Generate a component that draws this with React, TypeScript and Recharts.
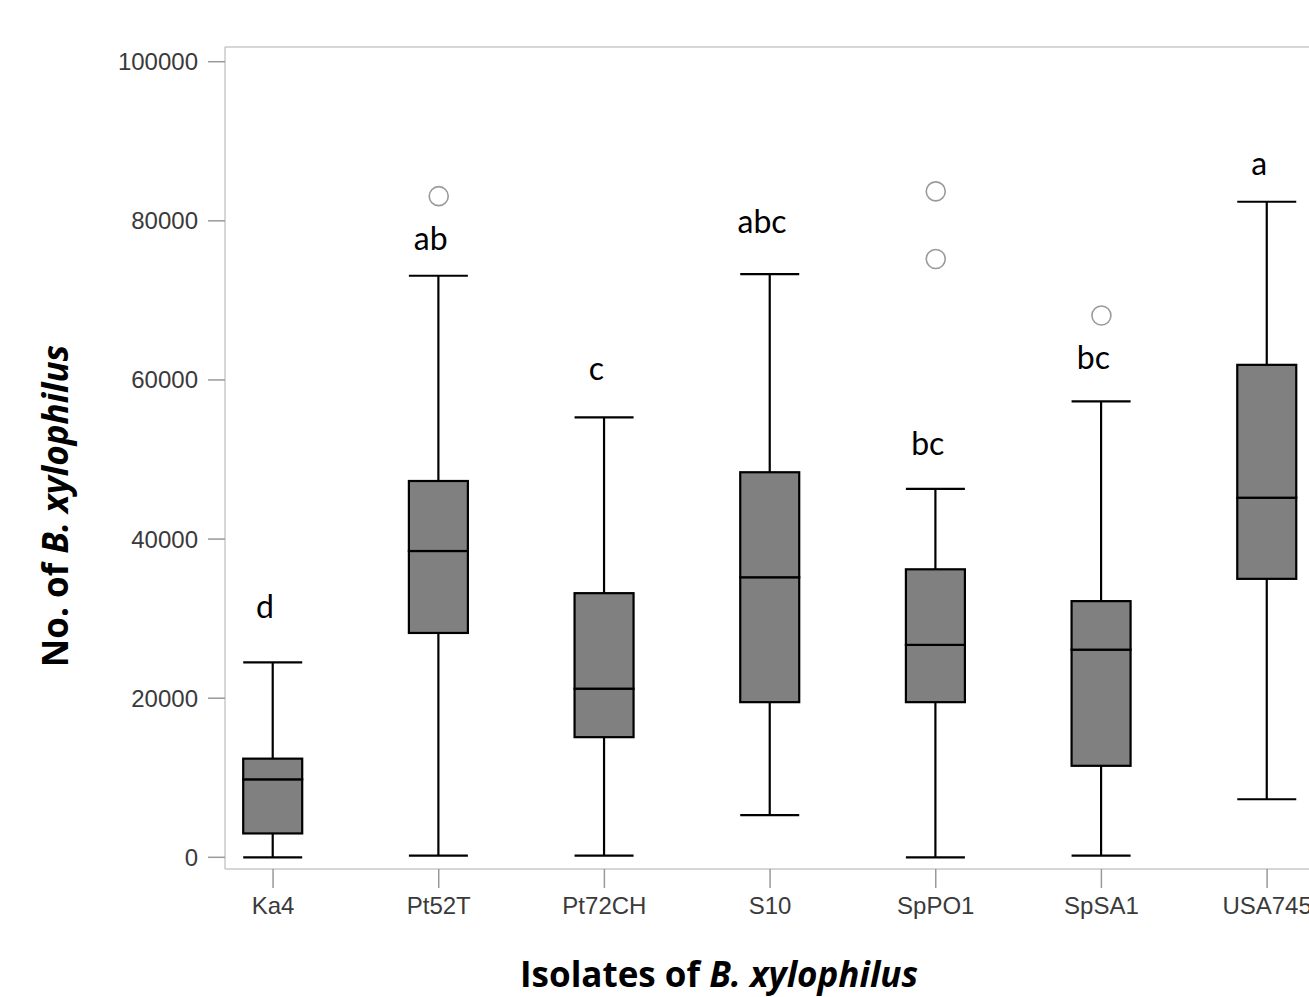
import React from 'react';
import { ComposedChart, Bar, XAxis, YAxis, Scatter, ReferenceLine } from 'recharts';

const categories = ['Ka4', 'Pt52T', 'Pt72CH', 'S10', 'SpPO1', 'SpSA1', 'USA745'];
const minValues = [0, 200, 200, 5300, 0, 200, 7300];
const q1Values = [3000, 28200, 15100, 19500, 19500, 11500, 35000];
const medianValues = [9800, 38500, 21200, 35200, 26700, 26100, 45200];
const q3Values = [12400, 47300, 33200, 48400, 36200, 32200, 61900];
const maxValues = [24500, 73100, 55300, 73300, 46300, 57300, 82400];
const outlierCats = [1, 4, 4, 5];
const outlierValues = [83100, 83700, 75200, 68100];
const letters = ['d', 'ab', 'c', 'abc', 'bc', 'bc', 'a'];
const letterValues = [30100, 76300, 60000, 78500, 50600, 61400, 85700];
const yTicks = [0, 20000, 40000, 60000, 80000, 100000];
const xTicks = [0, 1, 2, 3, 4, 5, 6];
const xDomain = [-0.29, 6.259];
const yDomain = [-1470, 101850];

const rows = categories.map((name, i) => ({
  x: i,
  name,
  base: minValues[i],
  lowWhisker: q1Values[i] - minValues[i],
  boxLow: medianValues[i] - q1Values[i],
  boxHigh: q3Values[i] - medianValues[i],
  highWhisker: maxValues[i] - q3Values[i],
}));

const outlierData = outlierCats.map((c, i) => ({ x: c, y: outlierValues[i] }));
const letterData = letters.map((l, i) => ({ x: i, y: letterValues[i], label: l }));

const LowWhisker = (p: any) => {
  const { x, y, width, height } = p;
  if (x == null || y == null) return <g />;
  const cx = x + width / 2;
  return (
    <g>
      <line x1={cx} x2={cx} y1={y} y2={y + height} stroke="#000" strokeWidth={2.2} />
      <line x1={x} x2={x + width} y1={y + height} y2={y + height} stroke="#000" strokeWidth={2.2} />
    </g>
  );
};

const HighWhisker = (p: any) => {
  const { x, y, width, height } = p;
  if (x == null || y == null) return <g />;
  const cx = x + width / 2;
  return (
    <g>
      <line x1={cx} x2={cx} y1={y} y2={y + height} stroke="#000" strokeWidth={2.2} />
      <line x1={x} x2={x + width} y1={y} y2={y} stroke="#000" strokeWidth={2.2} />
    </g>
  );
};

const BoxRect = (p: any) => {
  const { x, y, width, height } = p;
  if (x == null || y == null) return <g />;
  return <rect x={x} y={y} width={width} height={height} fill="#808080" stroke="#000" strokeWidth={2.2} />;
};

const Empty = () => <g />;

const OutlierShape = (p: any) => (
  <circle cx={p.cx} cy={p.cy} r={9.5} fill="#fff" stroke="#9a9a9a" strokeWidth={1.6} />
);

const LetterShape = (p: any) => (
  <text x={p.cx - 8} y={p.cy} textAnchor="middle" fontFamily="Lato, 'Open Sans', sans-serif" fontSize={32} fill="#000">
    {p.payload.label}
  </text>
);

const titleFont = "'Open Sans', Lato, sans-serif";

const YTitle = (props: any) => {
  const vb = props.viewBox || { x: 0, y: 47, width: 225, height: 822 };
  const cx = vb.x + 54;
  const cy = vb.y + vb.height / 2 + 48;
  return (
    <text
      x={cx}
      y={cy}
      transform={`rotate(-90, ${cx}, ${cy})`}
      textAnchor="middle"
      dominantBaseline="central"
      fontFamily={titleFont}
      fontWeight="bold"
      fontSize={35}
      fill="#000"
    >
      No. of <tspan fontStyle="italic">B. xylophilus</tspan>
    </text>
  );
};

const XTitle = (props: any) => {
  const vb = props.viewBox || { x: 225, y: 869, width: 1085, height: 128 };
  return (
    <text
      x={vb.x + 494}
      y={vb.y + 104}
      textAnchor="middle"
      dominantBaseline="central"
      fontFamily={titleFont}
      fontWeight="bold"
      fontSize={35}
      fill="#000"
    >
      Isolates of <tspan fontStyle="italic">B. xylophilus</tspan>
    </text>
  );
};

const tickStyle = { fontFamily: "'Liberation Sans', Arial, sans-serif", fontSize: 24, fill: '#3a3a3a' };

export default function App() {
  return (
    <div style={{ position: 'absolute', left: 0, top: 0, width: 1309, height: 997, overflow: 'hidden', background: '#fff' }}>
      <ComposedChart
        width={1340}
        height={997}
        data={rows}
        margin={{ top: 47, right: 30, bottom: 0, left: 0 }}
        barSize={59}
      >
        <XAxis
          dataKey="x"
          type="number"
          domain={xDomain}
          allowDataOverflow
          ticks={xTicks}
          interval={0}
          tickFormatter={(v: number) => categories[v] ?? ''}
          tick={tickStyle}
          tickSize={19}
          tickMargin={9}
          tickLine={{ stroke: '#999', strokeWidth: 1.5 }}
          axisLine={{ stroke: '#c8c8c8', strokeWidth: 1.5 }}
          height={128}
          label={{ content: XTitle }}
        />
        <YAxis
          type="number"
          domain={yDomain}
          allowDataOverflow
          ticks={yTicks}
          interval={0}
          tick={tickStyle}
          tickSize={17}
          tickMargin={10}
          tickLine={{ stroke: '#999', strokeWidth: 1.5 }}
          axisLine={{ stroke: '#c8c8c8', strokeWidth: 1.5 }}
          width={225}
          label={{ content: YTitle }}
        />
        <ReferenceLine y={yDomain[1]} stroke="#c8c8c8" strokeWidth={1.5} ifOverflow="extendDomain" />
        <Bar dataKey="base" stackId="box" shape={Empty} isAnimationActive={false} />
        <Bar dataKey="lowWhisker" stackId="box" shape={LowWhisker} isAnimationActive={false} />
        <Bar dataKey="boxLow" stackId="box" shape={BoxRect} isAnimationActive={false} />
        <Bar dataKey="boxHigh" stackId="box" shape={BoxRect} isAnimationActive={false} />
        <Bar dataKey="highWhisker" stackId="box" shape={HighWhisker} isAnimationActive={false} />
        <Scatter data={outlierData} dataKey="y" shape={OutlierShape} isAnimationActive={false} />
        <Scatter data={letterData} dataKey="y" shape={LetterShape} isAnimationActive={false} />
      </ComposedChart>
    </div>
  );
}
